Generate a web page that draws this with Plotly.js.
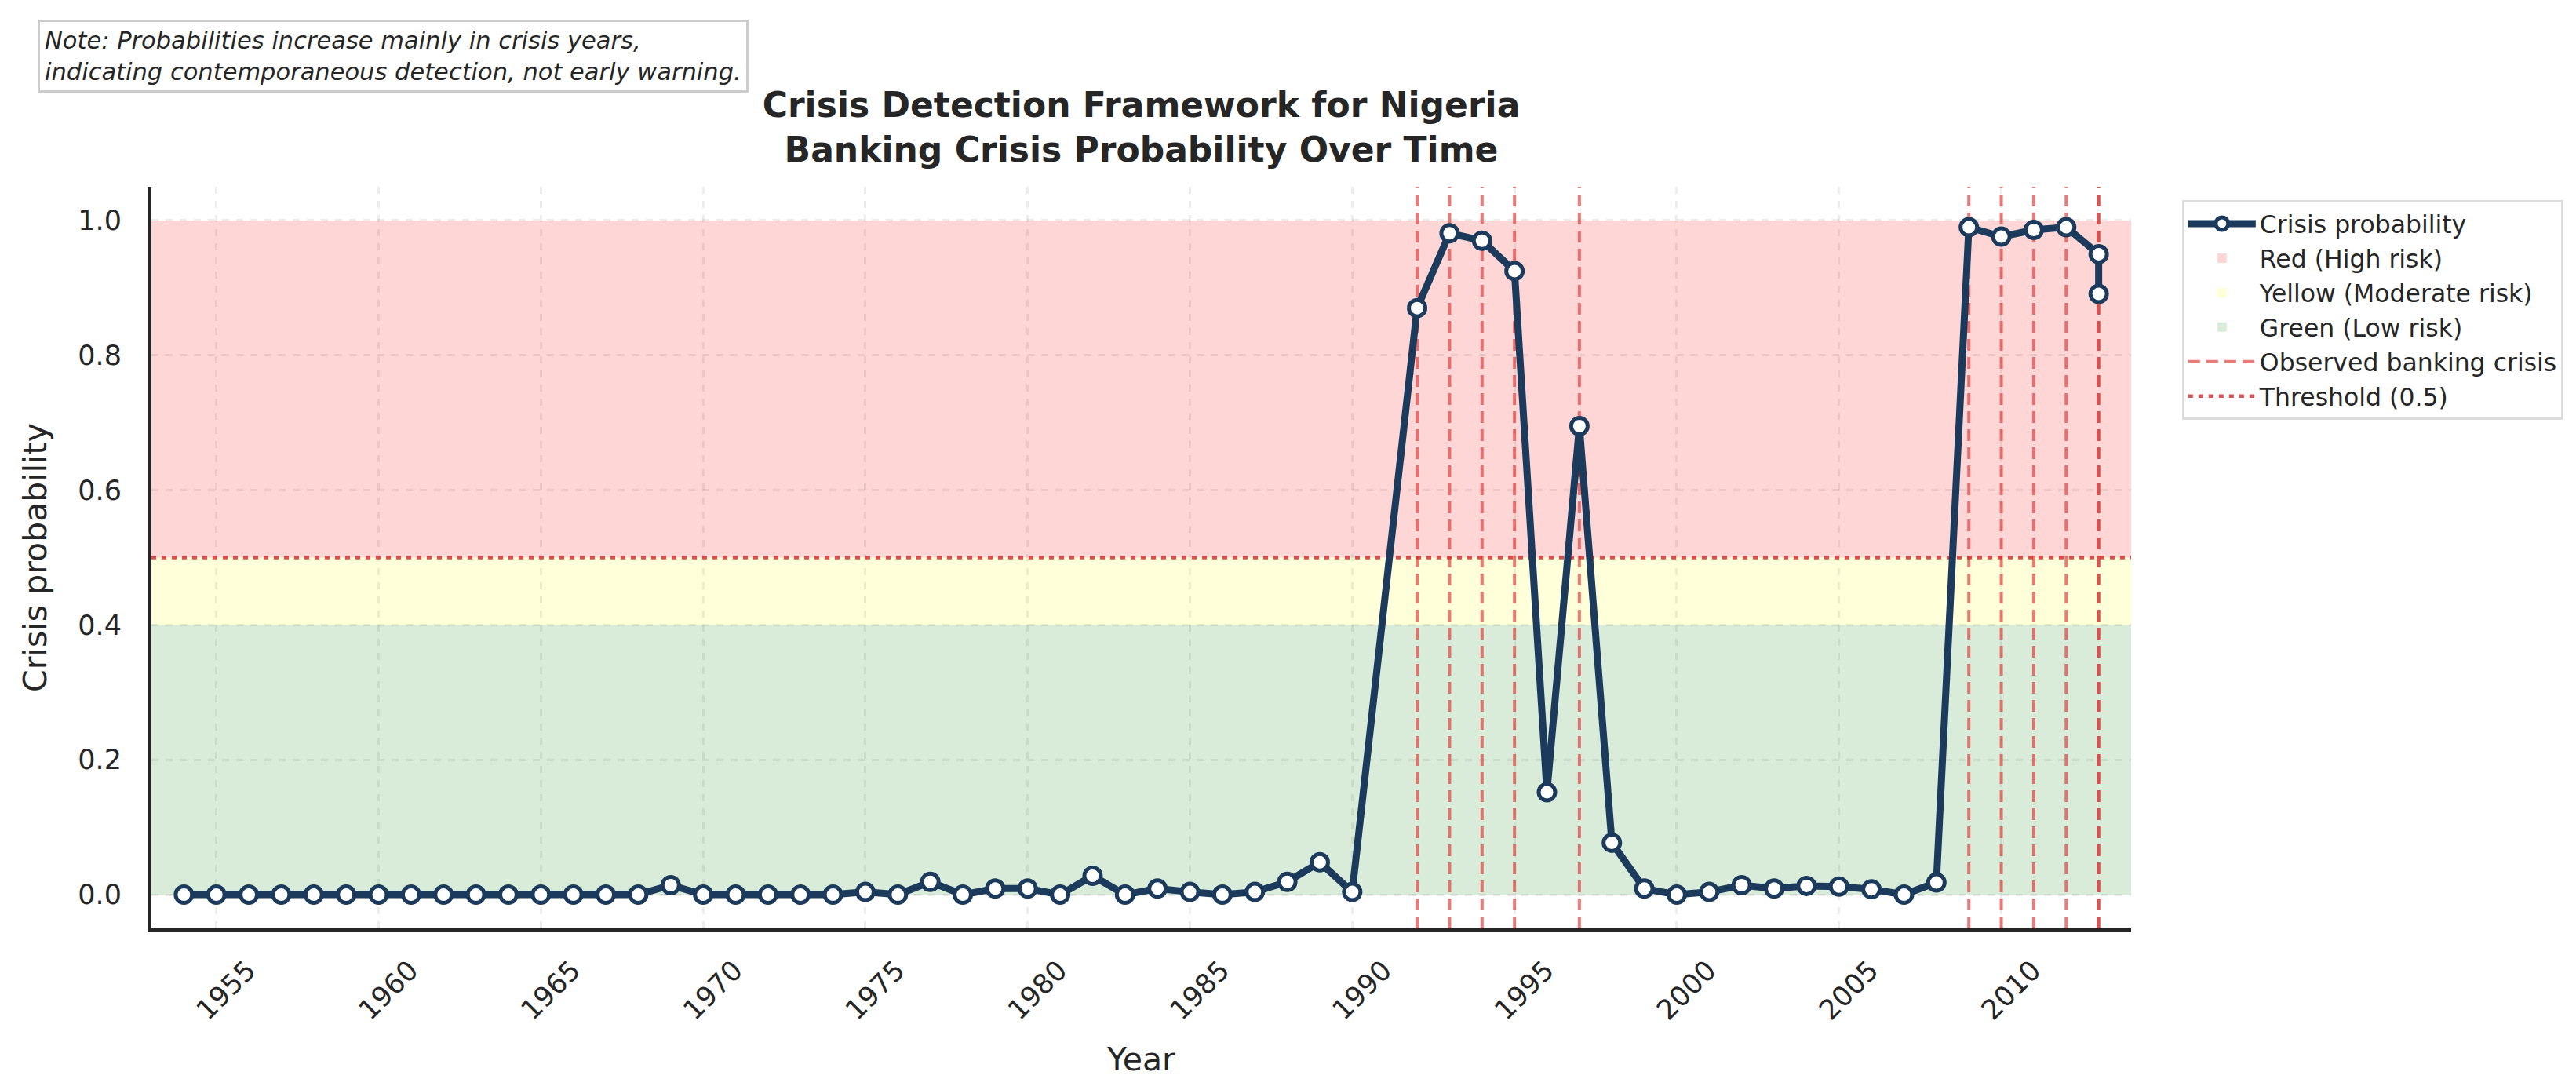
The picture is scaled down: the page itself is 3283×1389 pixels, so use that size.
<!DOCTYPE html>
<html>
<head>
<meta charset="utf-8">
<script src="https://cdn.plot.ly/plotly-3.0.1.min.js"></script>
<style>
  html, body { margin: 0; padding: 0; background: #ffffff; }
  #chart { width: 3283px; height: 1389px; }
</style>
</head>
<body>
<div id="chart"></div>
<script>
//data (1991 has no value, 2013 appears twice)
var years = [1954, 1955, 1956, 1957, 1958, 1959, 1960, 1961, 1962, 1963,
  1964, 1965, 1966, 1967, 1968, 1969, 1970, 1971, 1972, 1973,
  1974, 1975, 1976, 1977, 1978, 1979, 1980, 1981, 1982, 1983,
  1984, 1985, 1986, 1987, 1988, 1989, 1990, 1992, 1993, 1994,
  1995, 1996, 1997, 1998, 1999, 2000, 2001, 2002, 2003, 2004,
  2005, 2006, 2007, 2008, 2009, 2010, 2011, 2012, 2013, 2013];
var probability = [0, 0, 0, 0, 0, 0, 0, 0, 0, 0,
  0, 0, 0, 0, 0, 0.014, 0, 0, 0, 0,
  0, 0.004, 0, 0.019, 0, 0.009, 0.009, 0, 0.028, 0,
  0.009, 0.004, 0, 0.004, 0.019, 0.048, 0.004, 0.870, 0.981, 0.970,
  0.925, 0.152, 0.695, 0.077, 0.009, 0, 0.004, 0.014, 0.009, 0.013,
  0.012, 0.008, 0, 0.018, 0.990, 0.976, 0.986, 0.990, 0.950, 0.891];
var crisisYears = [1992, 1993, 1994, 1995, 1997, 2009, 2010, 2011, 2012, 2013, 2013];

//risk bands and threshold
var bandNames = ["Red (High risk)", "Yellow (Moderate risk)", "Green (Low risk)"];
var bandLow = [0.5, 0.4, 0.0];
var bandHigh = [1.0, 0.5, 0.4];
var bandColors = ["rgba(255,0,0,0.16)", "rgba(255,255,0,0.15)", "rgba(0,128,0,0.15)"];
var threshold = 0.5;

//axis limits and ticks
var xRange = [1953, 2014];
var yRange = [-0.05, 1.05];
var xTicks = [1955, 1960, 1965, 1970, 1975, 1980, 1985, 1990, 1995, 2000, 2005, 2010];
var yTicks = [0, 0.2, 0.4, 0.6, 0.8, 1.0];

var font = "DejaVu Sans, Liberation Sans, sans-serif";
var ink = "#262626";
var navy = "#1b3a5c";

var traces = [];
var shapes = [];

//background bands as shapes below the grid, with legend entries
for (var i = 0; i < bandNames.length; i++) {
  shapes.push({
    type: "rect",
    xref: "x",
    yref: "y",
    x0: xRange[0],
    x1: xRange[1],
    y0: bandLow[i],
    y1: bandHigh[i],
    fillcolor: bandColors[i],
    line: { width: 0 },
    layer: "below",
    name: bandNames[i],
    showlegend: true,
    legendrank: 2 + i,
  });
}

//observed crises, one dashed line each
for (var j = 0; j < crisisYears.length; j++) {
  traces.push({
    x: [crisisYears[j], crisisYears[j]],
    y: yRange,
    mode: "lines",
    line: { color: "rgba(222,60,60,0.68)", width: 4, dash: "15px,8px" },
    name: "Observed banking crisis",
    legendgroup: "crisis",
    showlegend: j == 0,
    legendrank: 5,
    hoverinfo: "skip",
  });
}

//threshold
traces.push({
  x: xRange,
  y: [threshold, threshold],
  mode: "lines",
  line: { color: "rgba(214,50,50,0.85)", width: 4.5, dash: "6px,7px" },
  name: "Threshold (0.5)",
  legendrank: 6,
  hoverinfo: "skip",
});

//main series
traces.push({
  x: years,
  y: probability,
  mode: "lines+markers",
  line: { color: navy, width: 9 },
  marker: { symbol: "circle", size: 21, color: "#ffffff", line: { color: navy, width: 5 } },
  name: "Crisis probability",
  legendrank: 1,
});

var layout = {
  width: 3283,
  height: 1389,
  paper_bgcolor: "#ffffff",
  plot_bgcolor: "#ffffff",
  margin: { l: 193, r: 567, t: 238, b: 206 },
  font: { family: font, color: ink, size: 35 },
  title: {
    text: "Crisis Detection Framework for Nigeria<br>Banking Crisis Probability Over Time",
    font: { family: font, size: 44, weight: "bold", color: ink },
    x: 0.5,
    xref: "paper",
    xanchor: "center",
    y: 0.893,
    yref: "container",
    yanchor: "top",
  },
  shapes: shapes,
  xaxis: {
    range: xRange,
    tickvals: xTicks,
    ticktext: xTicks.map(String),
    tickangle: -45,
    tickfont: { size: 35, color: ink },
    ticks: "",
    ticklabelstandoff: 14,
    ticklabelshift: 40,
    showgrid: true,
    gridcolor: "rgba(0,0,0,0.07)",
    gridwidth: 3,
    griddash: "dash",
    zeroline: false,
    showline: true,
    linecolor: ink,
    linewidth: 5,
    automargin: false,
    title: { text: "Year", font: { size: 41, color: ink }, standoff: 30 },
  },
  yaxis: {
    range: yRange,
    tickvals: yTicks,
    tickformat: ".1f",
    tickfont: { size: 35, color: ink },
    ticks: "",
    ticklabelstandoff: 26,
    showgrid: true,
    gridcolor: "rgba(0,0,0,0.07)",
    gridwidth: 3,
    griddash: "dash",
    zeroline: false,
    showline: true,
    linecolor: ink,
    linewidth: 5,
    automargin: false,
    title: { text: "Crisis probability", font: { size: 41, color: ink }, standoff: 28 },
  },
  legend: {
    x: 1.0257,
    y: 0.982,
    xanchor: "left",
    yanchor: "top",
    bgcolor: "#ffffff",
    bordercolor: "#dcdcdc",
    borderwidth: 3,
    font: { size: 31.5, color: ink },
    traceorder: "normal",
    itemwidth: 86,
  },
  annotations: [
    {
      text: "Note: Probabilities increase mainly in crisis years,<br>indicating contemporaneous detection, not early warning.",
      xref: "paper",
      yref: "paper",
      x: -0.0575,
      y: 1.2254,
      xanchor: "left",
      yanchor: "top",
      align: "left",
      showarrow: false,
      font: { family: font, size: 30.5, style: "italic", color: ink },
      bgcolor: "#ffffff",
      bordercolor: "#cccccc",
      borderwidth: 3,
      borderpad: 6,
    },
  ],
  showlegend: true,
};

Plotly.newPlot("chart", traces, layout, { displayModeBar: false, staticPlot: true });
</script>
</body>
</html>
